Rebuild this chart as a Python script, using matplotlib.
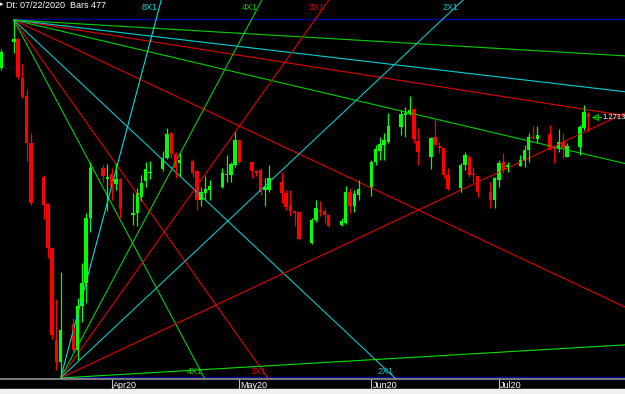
import matplotlib
matplotlib.use('Agg')
import matplotlib.pyplot as plt
import matplotlib.dates as mdates
import matplotlib.transforms as mtransforms
from matplotlib.patches import Rectangle
import pandas as pd

# daily GBPUSD-style candles, Mar 6 - Jul 22 2020
dates = pd.bdate_range('2020-03-06', '2020-07-22')

opens = [1.2960,
         1.3090, 1.3105, 1.2910, 1.2820, 1.2585,
         1.2415, 1.2280, 1.2060, 1.1600, 1.1490,
         1.1680, 1.1550, 1.1770, 1.1885, 1.2210,
         1.2458, 1.2403, 1.2430, 1.2380, 1.2405,
         1.2225, 1.2233, 1.2317, 1.2395, 1.2433,
         1.2455, 1.2512, 1.2633, 1.2530, 1.2487,
         1.2495, 1.2445, 1.2297, 1.2337, 1.2350,
         1.2367, 1.2425, 1.2425, 1.2475, 1.2600,
         1.2488, 1.2447, 1.2450, 1.2350, 1.2350,
         1.2392, 1.2337, 1.2275, 1.2242, 1.2237,
         1.2083, 1.2200, 1.2250, 1.2242, 1.2225,
         1.2175, 1.2183, 1.2342, 1.2267, 1.2325,
         1.2367, 1.2492, 1.2547, 1.2575, 1.2592,
         1.2667, 1.2725, 1.2730, 1.2753, 1.2597,
         1.2517, 1.2617, 1.2570, 1.2558, 1.2425,
         1.2358, 1.2475, 1.2517, 1.2430, 1.2420,
         1.2342, 1.2300, 1.2400, 1.2492, 1.2467,
         1.2470, 1.2497, 1.2550, 1.2617, 1.2603,
         1.2630, 1.2563, 1.2553, 1.2592, 1.2517,
         1.2563, 1.2658, 1.2730]
highs = [1.3055,
         1.3200, 1.3110, 1.2980, 1.2855, 1.2635,
         1.2425, 1.2285, 1.2065, 1.1805, 1.1940,
         1.1710, 1.1810, 1.1985, 1.2235, 1.2490,
         1.2475, 1.2480, 1.2458, 1.2483, 1.2408,
         1.2337, 1.2358, 1.2425, 1.2492, 1.2495,
         1.2547, 1.2658, 1.2640, 1.2542, 1.2533,
         1.2503, 1.2450, 1.2367, 1.2420, 1.2400,
         1.2458, 1.2525, 1.2492, 1.2642, 1.2603,
         1.2490, 1.2450, 1.2458, 1.2408, 1.2475,
         1.2442, 1.2350, 1.2350, 1.2245, 1.2240,
         1.2208, 1.2300, 1.2292, 1.2258, 1.2228,
         1.2208, 1.2370, 1.2358, 1.2350, 1.2400,
         1.2500, 1.2575, 1.2617, 1.2637, 1.2733,
         1.2750, 1.2763, 1.2820, 1.2758, 1.2658,
         1.2617, 1.2708, 1.2592, 1.2560, 1.2458,
         1.2483, 1.2542, 1.2525, 1.2467, 1.2422,
         1.2392, 1.2413, 1.2500, 1.2537, 1.2492,
         1.2525, 1.2575, 1.2633, 1.2670, 1.2670,
         1.2675, 1.2565, 1.2653, 1.2633, 1.2583,
         1.2675, 1.2775, 1.2742]
lows = [1.2950,
        1.3035, 1.2905, 1.2810, 1.2495, 1.2275,
        1.2205, 1.2010, 1.1605, 1.1450, 1.1409,
        1.1540, 1.1500, 1.1690, 1.1785, 1.2140,
        1.2390, 1.2242, 1.2300, 1.2350, 1.2208,
        1.2175, 1.2167, 1.2292, 1.2363, 1.2403,
        1.2445, 1.2503, 1.2508, 1.2408, 1.2420,
        1.2417, 1.2250, 1.2267, 1.2300, 1.2300,
        1.2358, 1.2392, 1.2392, 1.2467, 1.2483,
        1.2408, 1.2420, 1.2325, 1.2270, 1.2342,
        1.2283, 1.2250, 1.2217, 1.2167, 1.2100,
        1.2080, 1.2187, 1.2217, 1.2183, 1.2163,
        1.2167, 1.2180, 1.2233, 1.2237, 1.2300,
        1.2320, 1.2475, 1.2500, 1.2500, 1.2587,
        1.2625, 1.2617, 1.2725, 1.2587, 1.2475,
        1.2453, 1.2575, 1.2533, 1.2408, 1.2350,
        1.2342, 1.2450, 1.2413, 1.2392, 1.2317,
        1.2258, 1.2258, 1.2363, 1.2433, 1.2442,
        1.2468, 1.2463, 1.2492, 1.2603, 1.2583,
        1.2550, 1.2483, 1.2542, 1.2508, 1.2515,
        1.2525, 1.2650, 1.2647]
closes = [1.3040,
          1.3105, 1.2915, 1.2815, 1.2585, 1.2285,
          1.2275, 1.2060, 1.1625, 1.1490, 1.1650,
          1.1550, 1.1770, 1.1885, 1.2210, 1.2460,
          1.2420, 1.2417, 1.2370, 1.2403, 1.2255,
          1.2233, 1.2337, 1.2383, 1.2455, 1.2442,
          1.2512, 1.2630, 1.2528, 1.2458, 1.2500,
          1.2437, 1.2300, 1.2338, 1.2353, 1.2370,
          1.2437, 1.2430, 1.2478, 1.2600, 1.2492,
          1.2447, 1.2437, 1.2342, 1.2363, 1.2408,
          1.2337, 1.2263, 1.2242, 1.2233, 1.2105,
          1.2200, 1.2258, 1.2237, 1.2225, 1.2167,
          1.2192, 1.2342, 1.2267, 1.2330, 1.2355,
          1.2492, 1.2553, 1.2580, 1.2600, 1.2670,
          1.2730, 1.2733, 1.2750, 1.2603, 1.2542,
          1.2608, 1.2575, 1.2558, 1.2425, 1.2353,
          1.2475, 1.2525, 1.2425, 1.2425, 1.2342,
          1.2300, 1.2408, 1.2487, 1.2450, 1.2475,
          1.2500, 1.2550, 1.2617, 1.2608, 1.2625,
          1.2558, 1.2555, 1.2592, 1.2558, 1.2570,
          1.2667, 1.2742, 1.2713]

# Gann fan pivots and angles (1x1 = 0.0010 per day)
top_pivot = ('2020-03-09', 1.3200)
bottom_pivot = ('2020-03-20', 1.1409)
unit = 0.0010
top_fan = [(4, '4X1', '#00d000'), (3, '3X1', '#e00000'), (2, '2X1', '#00c8c8'),
           (1, None, '#e00000'), (1/2, None, '#00d000'), (1/3, None, '#e00000'),
           (1/4, None, '#00d0d0'), (1/8, None, '#00d000')]
bottom_fan = [(8, '8X1', '#00e0e0'), (4, '4X1', '#00d000'), (3, '3X1', '#e00000'),
              (2, '2X1', '#00c8c8'), (1, None, '#e00000'), (1/8, None, '#00e000')]

month_ticks = ['2020-04-01', '2020-05-01', '2020-06-01', '2020-07-01']
month_labels = ['Apr20', 'May20', 'Jun20', 'Jul20']
last_label = '1.2713'

plt.rcParams['font.family'] = ['Liberation Sans Narrow', 'Liberation Sans', 'DejaVu Sans']

W, H = 625, 394
fig = plt.figure(figsize=(W / 100, H / 100), dpi=100, facecolor='black')
ax = fig.add_axes([0, (H - 379) / H, 1, 379 / H])
ax.set_facecolor('black')

# pixel scale of the reference: 4.256 px per day, 0.0005003 price per px
px_day = 4.256
px_price = (top_pivot[1] - bottom_pivot[1]) / 358
apr1 = mdates.date2num(pd.Timestamp('2020-04-01'))
ax.set_xlim(apr1 - 111.7 / px_day, apr1 + (W - 111.7) / px_day)
y_top = top_pivot[1] + 20 * px_price
y_bot = top_pivot[1] - 359 * px_price
ax.set_ylim(y_bot, y_top)

x = mdates.date2num(dates)
t0 = mdates.date2num(pd.Timestamp(top_pivot[0]))
t1 = mdates.date2num(pd.Timestamp(bottom_pivot[0]))
far = t0 + 400

# horizontal pivot lines
ax.plot([t0, far], [top_pivot[1] + px_price, top_pivot[1] + px_price], color='#0000a0', lw=1)
ax.plot([t1, far], [bottom_pivot[1] + px_price, bottom_pivot[1] + px_price], color='#0000a0', lw=1)

# fan from the top
for r, lab, c in top_fan:
    ax.plot([t0, far], [top_pivot[1], top_pivot[1] - r * unit * (far - t0)], color=c, lw=0.8)
    if lab:
        xb = t0 + (top_pivot[1] - (y_bot + 1 * px_price)) / (r * unit)
        ax.text(xb - 1.5 / px_day, y_bot + 2.5 * px_price, lab, color=c, fontsize=6.5,
                ha='right', va='bottom')

# fan from the bottom
for r, lab, c in bottom_fan:
    ax.plot([t1, far], [bottom_pivot[1], bottom_pivot[1] + r * unit * (far - t1)], color=c, lw=0.8)
    if lab:
        xt = t1 + (y_top - bottom_pivot[1]) / (r * unit)
        ax.text(xt - 4 / px_day, y_top - 2.5 * px_price, lab, color=c, fontsize=6.5,
                ha='right', va='top')

# candles
for xi, o, h, l, c in zip(x, opens, highs, lows, closes):
    col = '#00ff00' if c >= o else '#ff0000'
    ax.plot([xi, xi], [l, h], color=col, lw=0.9, solid_capstyle='butt')
    body = max(abs(c - o), px_price)
    ax.bar(xi, body, bottom=min(o, c), width=0.8, color=col, linewidth=0)

# last price marker
lx = x[-1]
ax.plot([lx + 1.2, lx + 2.9], [closes[-1], closes[-1]], color='#00c000', lw=0.8)
ax.plot(lx + 1.5, closes[-1], marker='<', ms=4, mfc='none', mec='#00c000', mew=0.8)
ax.text(lx + 3.2, closes[-1], last_label, color='white', fontsize=5.5, ha='left', va='center')

# axes decoration
for s in ['top', 'right', 'left']:
    ax.spines[s].set_visible(False)
ax.spines['bottom'].set_color('#909090')
ax.spines['bottom'].set_linewidth(1.2)
ax.set_xticks([])
ax.set_yticks([])
trans = mtransforms.blended_transform_factory(ax.transData, ax.transAxes)
for d, lab in zip(month_ticks, month_labels):
    dn = mdates.date2num(pd.Timestamp(d))
    ax.plot([dn, dn], [0, -9 / 379], color='#c0c0c0', lw=0.8, transform=trans, clip_on=False)
    ax.text(dn + 0.3, -1.5 / 379, lab, color='white', fontsize=6.5, ha='left', va='top',
            transform=trans)

fig.patches.append(Rectangle((0, 0), 1, 5 / H, transform=fig.transFigure,
                             color='#f0f0f0', zorder=5))
fig.text(0 / W, 1 - 5 / H, '\u25b8', color='white', fontsize=5, va='center', ha='left')
fig.text(6 / W, 1 - 5 / H, 'Dt: 07/22/2020  Bars 477', color='white', fontsize=6.5,
         va='center', ha='left')

fig.savefig('out.png', dpi=100, facecolor='black')
